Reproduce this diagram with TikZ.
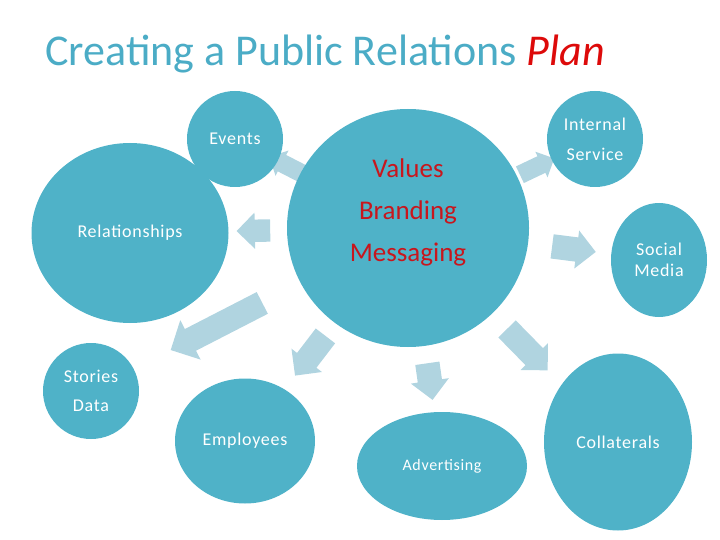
\documentclass[tikz,border=0pt]{standalone}
\usepackage{fontspec}
\setmainfont{Carlito}
\newfontfamily\bubblefont[LetterSpace=4]{Carlito}
\usetikzlibrary{shapes.geometric,shapes.arrows,backgrounds}

\definecolor{bubble}{HTML}{4FB2C8}
\definecolor{flowblue}{HTML}{B0D4E0}
\definecolor{titleblue}{HTML}{4BACC6}
\definecolor{planred}{HTML}{DD0A0A}
\definecolor{hubred}{HTML}{C8161D}

\begin{document}
\begin{tikzpicture}[x=1pt, y=-1pt,
    bubble/.style={ellipse, fill=bubble, inner sep=0pt, text=white, align=center, font=\bubblefont\fontsize{18}{22}\selectfont},
    flow/.style={single arrow, fill=flowblue, inner sep=12pt, single arrow head extend=7pt, minimum width=0pt, sloped, allow upside down}
]
    \useasboundingbox (0,0) rectangle (720,540);

    % Titre
    \node[anchor=base west, inner sep=0pt, text=titleblue, font=\fontsize{44}{50}\selectfont] (title) at (45,66)
        {Creating a Public Relations \textcolor{planred}{\textit{Plan}}};

    % Bulles
    \node[bubble, minimum width=242pt, minimum height=238pt] (hub) at (408,228) {};
    \node[text=hubred, align=center, font=\fontsize{27}{42}\selectfont] (hubtext) at (408,212) {Values\\Branding\\Messaging};
    \node[bubble, minimum width=96pt, minimum height=96pt] (events) at (235,139) {Events};
    \node[bubble, minimum width=197pt, minimum height=180pt] (relations) at (130,233) {Relationships};
    \node[bubble, minimum width=96pt, minimum height=96pt, font=\bubblefont\fontsize{18}{30}\selectfont] (internal) at (595,139) {Internal\\Service};
    \node[bubble, minimum width=96pt, minimum height=114pt, font=\bubblefont\fontsize{18}{21}\selectfont] (social) at (659,260) {Social\\Media};
    \node[bubble, minimum width=96pt, minimum height=96pt, font=\bubblefont\fontsize{18}{29}\selectfont] (stories) at (91,391) {Stories\\Data};
    \node[bubble, minimum width=140pt, minimum height=125pt] (employees) at (245,441) {Employees};
    \node[bubble, minimum width=170pt, minimum height=108pt, font=\bubblefont\fontsize{16}{20}\selectfont] (advert) at (442,466) {Advertising};
    \node[bubble, minimum width=148pt, minimum height=177pt] (collat) at (618,442) {Collaterals};

    % Fl\`eches
    \begin{scope}[on background layer]
        \path (hub.center) -- (events.center) node[flow, pos=0.68, minimum height=38pt, inner sep=9pt, single arrow head extend=5pt] (toevents) {};
        \path (hub.center) -- (internal.center) node[flow, pos=0.668, minimum height=38pt, inner sep=9pt, single arrow head extend=5pt] (tointernal) {};
        \path (hub.center) -- (relations.center) node[flow, pos=0.536, minimum height=32pt, inner sep=11pt] (torelations) {};
        \path (hub.center) -- (stories.center) node[flow, pos=0.587, minimum height=103pt, single arrow head extend=10pt] (tostories) {};
        \path (hub.center) -- (employees.center) node[flow, pos=0.577, minimum height=50pt] (toemployees) {};
        \path (hub.center) -- (advert.center) node[flow, pos=0.62, minimum height=37pt] (toadvert) {};
        \path (hub.center) -- (collat.center) node[flow, pos=0.548, minimum height=58pt] (tocollat) {};
        \path (hub.center) -- (social.center) node[flow, pos=0.637, minimum height=44pt] (tosocial) {};
    \end{scope}
\end{tikzpicture}
\end{document}
